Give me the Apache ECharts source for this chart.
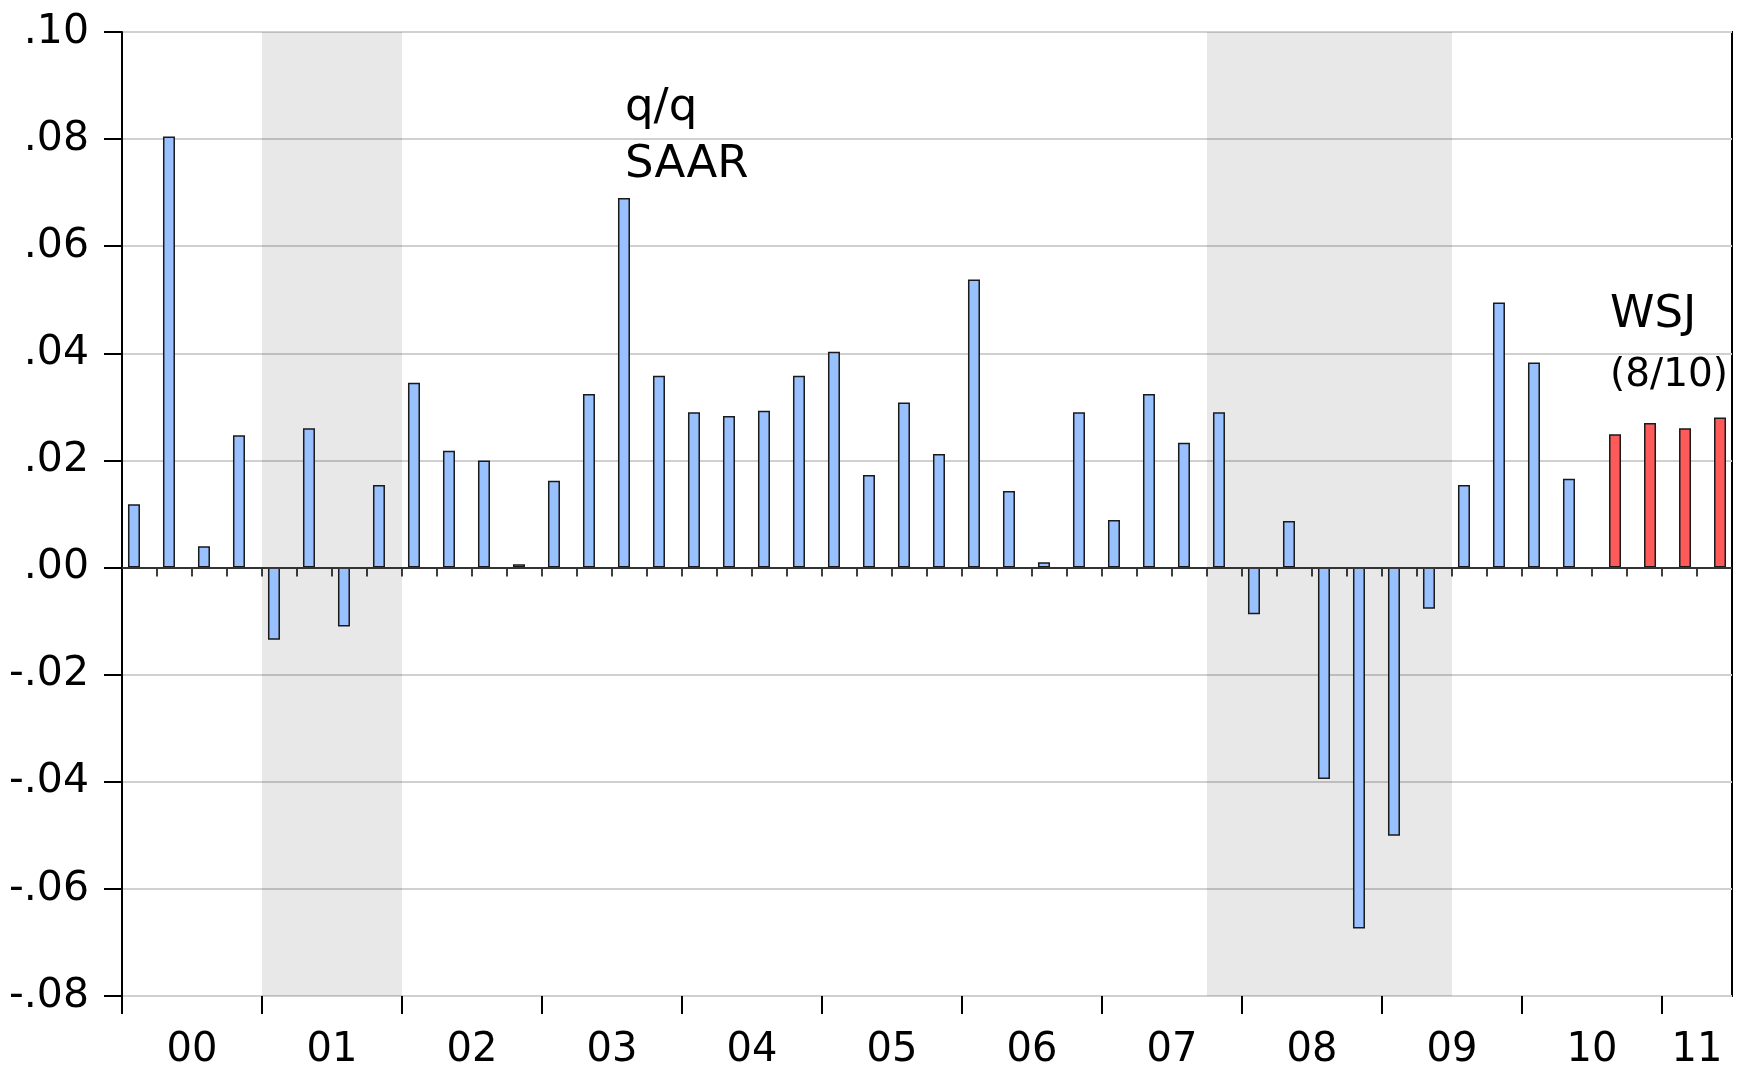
<!DOCTYPE html>
<html>
<head>
<meta charset="utf-8">
<script src="https://cdn.jsdelivr.net/npm/echarts@6/dist/echarts.min.js"></script>
<style>
  html, body { margin: 0; padding: 0; background: #fff; }
  #chart { width: 1745px; height: 1070px; }
</style>
</head>
<body>
<div id="chart"></div>
<script>
// quarters 2000Q1 .. 2011Q2
const quarters = [];
for (let y = 2000; y <= 2011; y++) {
  for (let q = 1; q <= 4; q++) {
    if (y === 2011 && q > 2) break;
    quarters.push(y + "Q" + q);
  }
}
const yearLabels = ["00", "01", "02", "03", "04", "05", "06", "07", "08", "09", "10", "11"];

// actual q/q SAAR growth
const actual = [
  0.0118, 0.0805, 0.0040, 0.0247,
  -0.0135, 0.0260, -0.0110, 0.0154,
  0.0345, 0.0218, 0.0200, 0.0006,
  0.0162, 0.0324, 0.0690, 0.0358,
  0.0290, 0.0283, 0.0293, 0.0358,
  0.0403, 0.0173, 0.0308, 0.0212,
  0.0538, 0.0143, 0.0010, 0.0290,
  0.0089, 0.0324, 0.0233, 0.0290,
  -0.0087, 0.0087, -0.0395, -0.0674,
  -0.0501, -0.0077, 0.0154, 0.0495,
  0.0383, 0.0166, null, null,
  null, null
];
// WSJ forecast (8/10)
const forecast = [
  null, null, null, null, null, null, null, null, null, null,
  null, null, null, null, null, null, null, null, null, null,
  null, null, null, null, null, null, null, null, null, null,
  null, null, null, null, null, null, null, null, null, null,
  null, null, 0.0249, 0.0270,
  0.0260, 0.0280
];
// recessions, as [first quarter, last quarter]
const recessions = [["2001Q1", "2001Q4"], ["2007Q4", "2009Q2"]];

const yTickMin = -0.08;
const yTickMax = 0.10;
const yTickStep = 0.02;

// year boundaries and centres on a 0..n quarter scale
const yearStarts = [];
const yearMids = [];
yearLabels.forEach(lab => {
  const idx = quarters.map((q, i) => (q.slice(2, 4) === lab ? i : -1)).filter(i => i >= 0);
  yearStarts.push(idx[0]);
  yearMids.push((idx[0] + idx[idx.length - 1] + 1) / 2);
});
const shadeAreas = recessions.map(r => [
  { xAxis: quarters.indexOf(r[0]) },
  { xAxis: quarters.indexOf(r[1]) + 1 }
]);

const FONT = "'DejaVu Sans', sans-serif";

const chart = echarts.init(document.getElementById("chart"));
chart.setOption({
  animation: false,
  backgroundColor: "#fff",
  grid: {
    left: 122, right: 13, top: 32, bottom: 74,
    outerBoundsMode: "none",
    show: true, borderColor: "#000", borderWidth: 2
  },
  xAxis: [
    {
      type: "category",
      data: quarters,
      boundaryGap: true,
      axisLine: { lineStyle: { color: "#000", width: 2 } },
      axisTick: { show: true, interval: 0, length: 9, lineStyle: { color: "#000", width: 1.5 } },
      axisLabel: { show: false },
      splitLine: { show: false }
    },
    {
      type: "value",
      min: 0,
      max: quarters.length,
      position: "bottom",
      axisLine: { show: false },
      axisTick: { show: true, length: 18, customValues: yearStarts, lineStyle: { color: "#000", width: 2 } },
      axisLabel: {
        show: true,
        customValues: yearMids,
        margin: 35,
        fontSize: 40,
        fontFamily: FONT,
        color: "#000",
        formatter: v => yearLabels[Math.floor(v / 4)]
      },
      splitLine: { show: false }
    }
  ],
  yAxis: {
    type: "value",
    min: yTickMin,
    max: yTickMax,
    interval: yTickStep,
    axisLine: { show: true, lineStyle: { color: "#000", width: 2 } },
    axisTick: { show: true, length: 18, lineStyle: { color: "#000", width: 2 } },
    axisLabel: {
      margin: 33,
      fontSize: 41,
      fontFamily: FONT,
      color: "#000",
      formatter: v => v.toFixed(2).replace("0.", ".")
    },
    splitLine: { show: true, lineStyle: { color: "#d0d0d0", width: 2 } }
  },
  series: [
    {
      type: "line",
      xAxisIndex: 1,
      data: [],
      z: 1,
      silent: true,
      markArea: {
        silent: true,
        itemStyle: { color: "rgba(0,0,0,0.09)" },
        data: shadeAreas
      }
    },
    {
      name: "actual",
      type: "bar",
      data: actual,
      barWidth: 12,
      barGap: "-8%",
      itemStyle: { color: "#99c0ff", borderColor: "#1a1a1a", borderWidth: 1.5 },
      markLine: {
        silent: true,
        symbol: "none",
        label: { show: false },
        lineStyle: { color: "#444", width: 1.5, type: "solid" },
        data: [{ yAxis: 0 }]
      }
    },
    {
      name: "WSJ",
      type: "bar",
      data: forecast,
      barWidth: 12,
      barGap: "-8%",
      itemStyle: { color: "#ff5a5a", borderColor: "#1a1a1a", borderWidth: 1.5 }
    }
  ],
  graphic: [
    { type: "text", left: 625, top: 86, style: { text: "q/q", font: "45px " + FONT, fill: "#000" } },
    { type: "text", left: 625, top: 143, style: { text: "SAAR", font: "45px " + FONT, fill: "#000" } },
    { type: "text", left: 1610, top: 293, style: { text: "WSJ", font: "45px " + FONT, fill: "#000" } },
    { type: "text", left: 1610, top: 356, style: { text: "(8/10)", font: "39px " + FONT, fill: "#000" } }
  ]
});
</script>
</body>
</html>
